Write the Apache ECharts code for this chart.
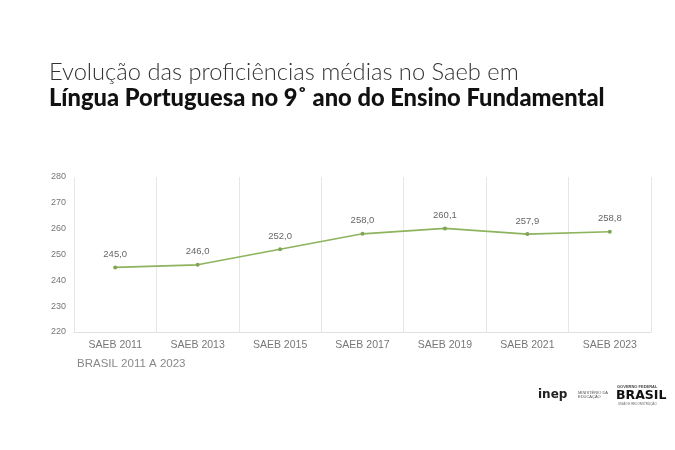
<!DOCTYPE html>
<html>
<head>
<meta charset="utf-8">
<script src="https://cdn.jsdelivr.net/npm/echarts@6/dist/echarts.min.js"></script>
<style>
  html, body { margin: 0; padding: 0; background: #fff; }
  #main { width: 675px; height: 450px; }
</style>
</head>
<body>
<div id="main"></div>
<script>
var categories = ['SAEB 2011', 'SAEB 2013', 'SAEB 2015', 'SAEB 2017', 'SAEB 2019', 'SAEB 2021', 'SAEB 2023'];
var proficiencia = [245.0, 246.0, 252.0, 258.0, 260.1, 257.9, 258.8];
var yTicks = { min: 220, max: 280, interval: 10 };

var myChart = echarts.init(document.getElementById('main'));
var option = {
    backgroundColor: '#ffffff',
    animation: false,
    title: [{
        text: 'Evolução das proficiências médias no Saeb em',
        left: 44,
        top: 55,
        textStyle: { color: '#333', fontFamily: 'Lato', fontWeight: 300, fontSize: 23.7 }
    }, {
        text: 'Língua Portuguesa no 9˚ ano do Ensino Fundamental',
        left: 44,
        top: 81,
        textStyle: { color: '#111', fontFamily: 'Lato', fontWeight: 900, fontSize: 23.7 }
    }],
    grid: {
        left: 74,
        right: 24,
        top: 177,
        bottom: 118
    },
    xAxis: {
        type: 'category',
        data: categories,
        boundaryGap: true,
        axisLine: { lineStyle: { color: '#e0e0e0' } },
        axisTick: { show: false },
        splitLine: { show: true, lineStyle: { color: '#e6e6e6' } },
        axisLabel: { color: '#777', fontSize: 10.5, fontFamily: 'Liberation Sans', margin: 8 }
    },
    yAxis: {
        type: 'value',
        min: yTicks.min,
        max: yTicks.max,
        interval: yTicks.interval,
        axisLine: { show: false },
        axisTick: { show: false },
        splitLine: { show: false },
        axisLabel: { color: '#777', fontSize: 9, fontFamily: 'Liberation Sans', margin: 8 }
    },
    series: [{
        type: 'line',
        data: proficiencia,
        symbol: 'circle',
        symbolSize: 4,
        lineStyle: { color: '#8db35e', width: 1.6 },
        itemStyle: { color: '#7fa552' },
        label: {
            show: true,
            position: 'top',
            distance: 6,
            color: '#666',
            fontSize: 9.5,
            fontFamily: 'Liberation Sans',
            formatter: function (p) { return p.value.toFixed(1).replace('.', ','); }
        }
    }],
    graphic: [{
        type: 'text',
        left: 77,
        top: 358,
        style: { text: 'BRASIL 2011 A 2023', fill: '#888', font: '11.5px "Liberation Sans"' }
    }, {
        type: 'text',
        left: 538,
        top: 389,
        style: { text: 'inep', fill: '#222', font: 'bold 12px "DejaVu Sans"' }
    }, {
        type: 'text',
        left: 578,
        top: 391,
        style: { text: 'MINISTÉRIO DA\nEDUCAÇÃO', fill: '#555', font: '4px "Liberation Sans"', align: 'center' }
    }, {
        type: 'text',
        left: 617,
        top: 385,
        style: { text: 'GOVERNO FEDERAL', fill: '#444', font: 'bold 4px "Liberation Sans"' }
    }, {
        type: 'text',
        left: 616,
        top: 389,
        style: { text: 'BRASIL', fill: '#111', font: '900 12.5px "DejaVu Sans"' }
    }, {
        type: 'text',
        left: 618,
        top: 403,
        style: { text: 'UNIÃO E RECONSTRUÇÃO', fill: '#666', font: '3px "Liberation Sans"' }
    }]
};
myChart.setOption(option);
</script>
</body>
</html>
